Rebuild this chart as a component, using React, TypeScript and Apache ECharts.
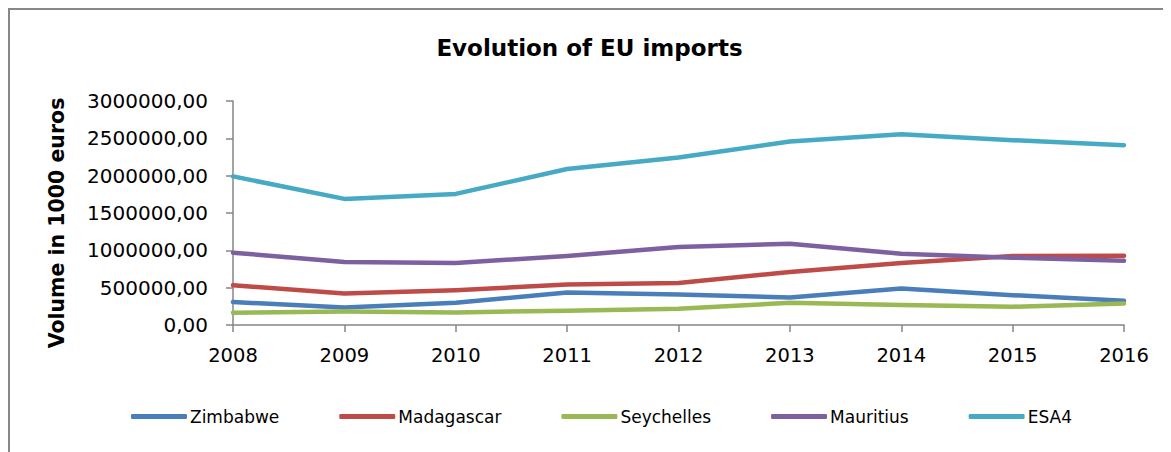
import React, { useEffect, useRef } from "react";
import * as echarts from "echarts";

const years = ["2008", "2009", "2010", "2011", "2012", "2013", "2014", "2015", "2016"];
const zimbabwe = [307000, 236000, 298000, 436000, 409000, 369000, 489000, 400000, 324000];
const madagascar = [533000, 422000, 467000, 542000, 564000, 711000, 831000, 924000, 928000];
const seychelles = [164000, 182000, 169000, 191000, 218000, 298000, 267000, 244000, 289000];
const mauritius = [969000, 844000, 831000, 924000, 1044000, 1089000, 955000, 902000, 862000];
const esa4 = [1990000, 1689000, 1756000, 2089000, 2244000, 2458000, 2555000, 2475000, 2409000];

const seriesNames = ["Zimbabwe", "Madagascar", "Seychelles", "Mauritius", "ESA4"];
const seriesData = [zimbabwe, madagascar, seychelles, mauritius, esa4];
const colors = ["#4A7EBB", "#BE4B48", "#98B954", "#7D60A0", "#46AAC5"];

const FONT = "DejaVu Sans";

export default function App() {
  const ref = useRef<HTMLDivElement>(null);
  useEffect(() => {
    if (!ref.current) return;
    const chart = echarts.init(ref.current, null, { renderer: "svg" });
    chart.setOption({
      animation: false,
      backgroundColor: "#ffffff",
      title: {
        text: "Evolution of EU imports",
        left: "center",
        top: 23,
        textStyle: { fontFamily: FONT, fontSize: 23, fontWeight: "bold", color: "#000" },
      },
      grid: { left: 225, right: 47, top: 93, bottom: 127, containLabel: false },
      legend: {
        data: seriesNames,
        bottom: 22,
        left: 118,
        icon: "roundRect",
        itemWidth: 56,
        itemHeight: 5,
        itemGap: 60,
        textStyle: { fontFamily: FONT, fontSize: 17, color: "#000", padding: [0, 0, 0, -2] },
      },
      xAxis: {
        type: "category",
        data: years,
        boundaryGap: false,
        axisLine: { show: true, lineStyle: { color: "#868686", width: 1.5 } },
        axisTick: { show: true, inside: false, length: 7, alignWithLabel: true, lineStyle: { color: "#868686", width: 1.5 } },
        axisLabel: { fontFamily: FONT, fontSize: 19.5, color: "#000", margin: 20 },
        splitLine: { show: false },
      },
      yAxis: {
        type: "value",
        min: 0,
        max: 3000000,
        interval: 500000,
        name: "Volume in 1000 euros",
        nameLocation: "middle",
        nameRotate: 90,
        nameGap: 166,
        nameTextStyle: {
          fontFamily: FONT,
          fontSize: 20.5,
          fontWeight: "bold",
          color: "#000",
          padding: [0, 20, 0, 0],
        },
        axisLine: { show: true, lineStyle: { color: "#868686", width: 1.5 } },
        axisTick: { show: true, inside: false, length: 7, lineStyle: { color: "#868686", width: 1.5 } },
        axisLabel: {
          fontFamily: FONT,
          fontSize: 20,
          color: "#000",
          margin: 25,
          formatter: (v: number) => `${v},00`,
        },
        splitLine: { show: false },
      },
      series: seriesNames.map((name, i) => ({
        name,
        type: "line",
        data: seriesData[i],
        showSymbol: false,
        symbol: "none",
        color: colors[i],
        lineStyle: { width: 4.5, color: colors[i], cap: "round", join: "round" },
      })),
    });
    return () => chart.dispose();
  }, []);

  return (
    <div style={{ position: "relative", width: 1163, height: 444 }}>
      <div ref={ref} style={{ position: "absolute", left: 0, top: 0, width: 1163, height: 444 }} />
      <div
        style={{
          position: "absolute",
          left: 0,
          top: 0,
          width: 1163,
          height: 444,
          borderLeft: "2px solid #878787",
          borderTop: "2px solid #878787",
          boxSizing: "border-box",
          pointerEvents: "none",
        }}
      />
    </div>
  );
}
